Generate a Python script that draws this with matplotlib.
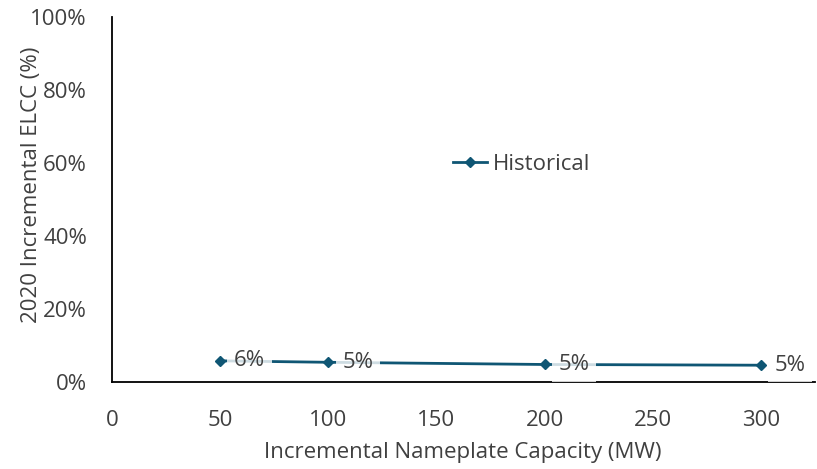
import matplotlib.pyplot as plt
from matplotlib.ticker import PercentFormatter

capacity = [50, 100, 200, 300]
elcc = [0.058, 0.054, 0.048, 0.046]
series_name = "Historical"

plt.rcParams['font.family'] = ['Open Sans', 'DejaVu Sans']
text_color = '#404040'
line_color = '#0f5674'
fs = 16

fig = plt.figure(figsize=(8.17, 4.69), dpi=100)
ax = fig.add_axes([112 / 817, 1 - 382 / 469, (815 - 112) / 817, (382 - 17) / 469])

ax.plot(capacity, elcc, color=line_color, lw=2, marker='D', ms=5, label=series_name)
for x, y in zip(capacity, elcc):
    ax.annotate(f"{y * 100:.0f}%", (x, y), xytext=(10, 0), textcoords='offset points',
                ha='left', va='center', fontsize=fs, color=text_color,
                bbox=dict(boxstyle='square,pad=0.3', fc='white', ec='none', alpha=0.8))

ax.set_xlim(0, 325)
ax.set_ylim(0, 1)
ax.set_xticks([0, 50, 100, 150, 200, 250, 300])
ax.set_yticks([0, 0.2, 0.4, 0.6, 0.8, 1.0])
ax.yaxis.set_major_formatter(PercentFormatter(1.0, decimals=0))
ax.tick_params(length=0, labelsize=fs, colors=text_color)
ax.tick_params(axis='x', pad=20)
ax.tick_params(axis='y', pad=18)
for side in ['top', 'right']:
    ax.spines[side].set_visible(False)
for side in ['left', 'bottom']:
    ax.spines[side].set_color('black')
    ax.spines[side].set_linewidth(1.3)

ax.set_xlabel("Incremental Nameplate Capacity (MW)", fontsize=fs, color=text_color)
ax.set_ylabel("2020 Incremental ELCC (%)", fontsize=fs, color=text_color)
ax.xaxis.set_label_coords(463 / 817, 1 - 442 / 469, transform=fig.transFigure)
ax.yaxis.set_label_coords(42 / 817, 1 - 185 / 469, transform=fig.transFigure)

ax.legend(loc='center', bbox_to_anchor=(522 / 817, 1 - 164 / 469), bbox_transform=fig.transFigure,
          frameon=False, fontsize=fs, labelcolor=text_color, handlelength=1.5, handletextpad=0.3)

fig.savefig('out.png', dpi=100)
